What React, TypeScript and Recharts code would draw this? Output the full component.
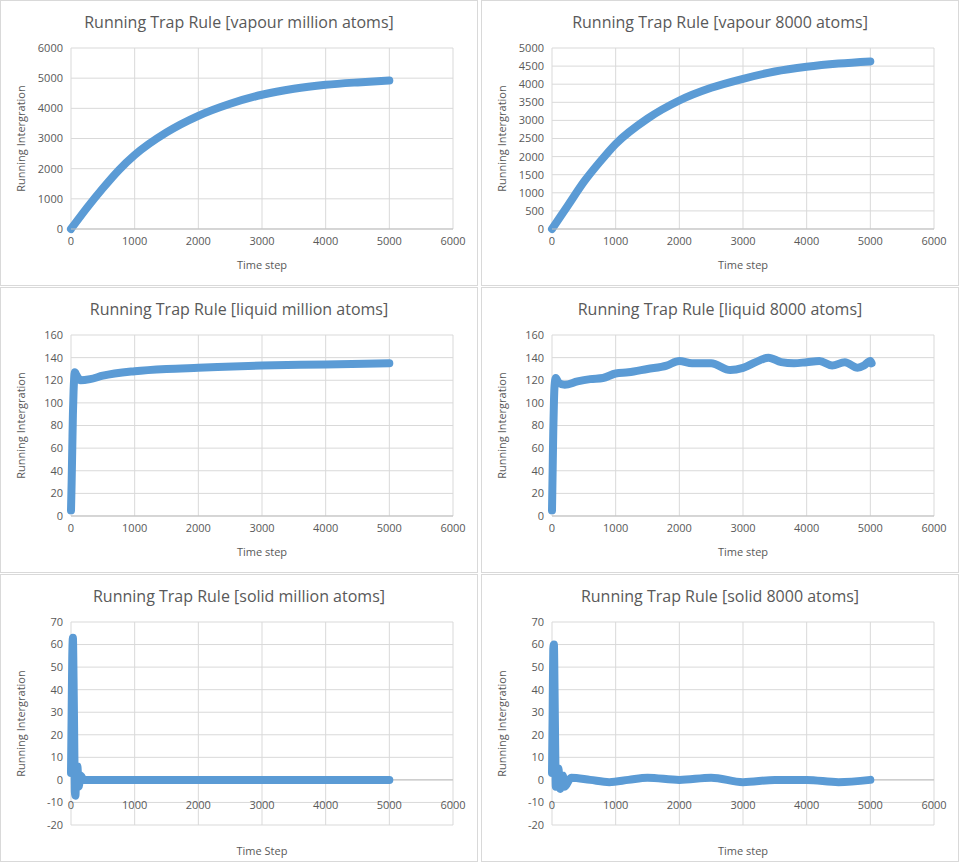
import { CartesianGrid, Line, LineChart, ReferenceLine, XAxis, YAxis } from "recharts";

type Pt = { t: number; v: number };
const mk = (a: number[][]): Pt[] => a.map(([t, v]) => ({ t, v }));

const vapourMillion = mk([[0,0],[250,700],[500,1350],[750,1950],[1000,2450],[1500,3200],[2000,3750],[2500,4150],[3000,4450],[3500,4650],[4000,4780],[4500,4860],[5000,4920]]);
const vapour8000 = mk([[0,0],[250,650],[500,1300],[750,1850],[1000,2350],[1500,3050],[2000,3550],[2500,3900],[3000,4150],[3500,4350],[4000,4480],[4500,4570],[5000,4630]]);
const liquidMillion = mk([[0,5],[10,30],[20,60],[30,90],[40,110],[50,122],[60,127],[80,125],[150,120],[300,121],[500,124],[1000,128],[1500,130],[2000,131],[3000,133],[4000,134],[5000,135]]);
const liquid8000 = mk([[0,5],[10,40],[20,75],[30,100],[40,115],[60,122],[100,118],[200,116],[400,119],[600,121],[800,122],[1000,126],[1200,127],[1500,130],[1800,133],[2000,137],[2200,135],[2500,135],[2800,129],[3000,131],[3200,136],[3400,140],[3600,136],[3800,135],[4000,136],[4200,137],[4400,133],[4600,136],[4800,131],[4900,133],[5000,137],[5020,135]]);
const solidMillion = mk([[0,3],[10,30],[20,55],[30,63],[40,45],[50,20],[60,-5],[70,-7],[80,2],[100,6],[120,-3],[150,2],[200,0],[500,0],[5000,0]]);
const solid8000 = mk([[0,3],[10,30],[20,58],[30,60],[40,40],[50,15],[60,-3],[80,0],[100,5],[130,-4],[170,2],[200,-3],[300,1],[600,0],[900,-1],[1200,0],[1500,1],[2000,0],[2500,1],[3000,-1],[3500,0],[4000,0],[4500,-1],[5000,0]]);

const xTicks = [0, 1000, 2000, 3000, 4000, 5000, 6000];
const TXT = "#595959";

function Panel(props: {
  x: number; y: number; h: number; title: string; data: Pt[];
  yTicks: number[]; xLabel: string; zeroShift?: number;
}) {
  const { data, yTicks, h, zeroShift } = props;
  const solid = zeroShift !== undefined;
  return (
    <div style={{ position: "absolute", left: props.x, top: props.y, width: 478, height: h, border: "1px solid #d9d9d9", boxSizing: "border-box", background: "#fff" }}>
      <div style={{ position: "absolute", top: 10, width: "100%", textAlign: "center", fontFamily: "Open Sans", fontSize: 16, color: TXT }}>{props.title}</div>
      <LineChart width={476} height={h - 2} data={data} margin={{ top: 47, right: 24, bottom: 4, left: 0 }}>
        <CartesianGrid stroke="#d9d9d9" />
        <XAxis dataKey="t" type="number" domain={[0, 6000]} ticks={xTicks} interval={0}
          height={solid ? 32 : 52} axisLine={solid ? false : { stroke: "#bfbfbf" }} tickLine={false}
          tick={(p: any) => (
            <text x={p.x} y={p.y + 8 - (zeroShift ?? 0)} textAnchor="middle" fontSize={11} fontFamily="Open Sans" fill={TXT}>{p.payload.value}</text>
          )}
          label={{ value: props.xLabel, position: "insideBottom", offset: solid ? 2 : 12, fontSize: 11, fill: TXT, fontFamily: "Open Sans" }} />
        <YAxis dataKey="v" type="number" domain={[yTicks[0], yTicks[yTicks.length - 1]]} ticks={yTicks} interval={0}
          width={70} axisLine={false} tickLine={false}
          tick={{ fontSize: 11, fill: TXT, fontFamily: "Open Sans" }}
          label={{ value: "Running Intergration", angle: -90, position: "insideLeft", offset: 20, style: { textAnchor: "middle" }, fontSize: 11, fill: TXT, fontFamily: "Open Sans" }} />
        {solid && <ReferenceLine y={0} stroke="#bfbfbf" />}
        <Line dataKey="v" type="monotone" stroke="#5b9bd5" strokeWidth={8} strokeLinecap="round" dot={false} isAnimationActive={false} />
      </LineChart>
    </div>
  );
}

const vTicksA = [0, 1000, 2000, 3000, 4000, 5000, 6000];
const vTicksB = [0, 500, 1000, 1500, 2000, 2500, 3000, 3500, 4000, 4500, 5000];
const lTicks = [0, 20, 40, 60, 80, 100, 120, 140, 160];
const sTicks = [-20, -10, 0, 10, 20, 30, 40, 50, 60, 70];

export default function App() {
  return (
    <div style={{ position: "absolute", left: 0, top: 0, width: 961, height: 862, background: "#fff" }}>
      <Panel x={0} y={0} h={286} title="Running Trap Rule [vapour million atoms]" data={vapourMillion} yTicks={vTicksA} xLabel="Time step" />
      <Panel x={481} y={0} h={286} title="Running Trap Rule [vapour 8000 atoms]" data={vapour8000} yTicks={vTicksB} xLabel="Time step" />
      <Panel x={0} y={287} h={286} title="Running Trap Rule [liquid million atoms]" data={liquidMillion} yTicks={lTicks} xLabel="Time step" />
      <Panel x={481} y={287} h={286} title="Running Trap Rule [liquid 8000 atoms]" data={liquid8000} yTicks={lTicks} xLabel="Time step" />
      <Panel x={0} y={574} h={288} title="Running Trap Rule [solid million atoms]" data={solidMillion} yTicks={sTicks} xLabel="Time Step" zeroShift={32} />
      <Panel x={481} y={574} h={288} title="Running Trap Rule [solid 8000 atoms]" data={solid8000} yTicks={sTicks} xLabel="Time step" zeroShift={32} />
    </div>
  );
}
